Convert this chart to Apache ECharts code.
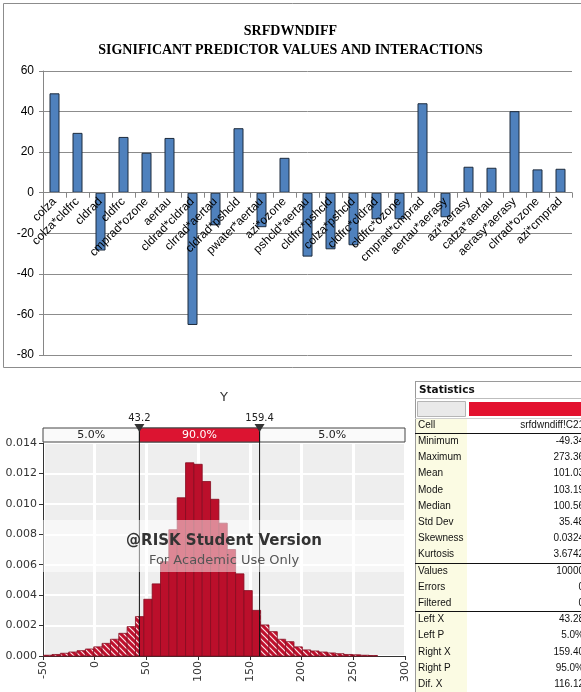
<!DOCTYPE html>
<html><head><meta charset="utf-8">
<script src="https://cdn.jsdelivr.net/npm/echarts@6/dist/echarts.min.js"></script>
<style>html,body{margin:0;padding:0;background:#fff}#c{width:581px;height:692px}</style>
</head><body><div id="c"></div>
<script>
// ---- Top chart: predictor effects ----
const categories = ['colza','colza*cldfrc','cldrad','cldfrc','cmprad*ozone','aertau','cldrad*cldrad','clrrad*aertau','cldrad*pshcld','pwater*aertau','azi*ozone','pshcld*aertau','cldfrc*pshcld','colza*pshcld','cldfrc*cldrad','cldfrc*ozone','cmprad*cmprad','aertau*aerasy','azi*aerasy','catza*aertau','aerasy*aerasy','clrrad*ozone','azi*cmprad'];
const effects = [49.0,29.5,-28.5,27.5,19.7,27.0,-65.2,-16.1,31.8,-17.0,17.2,-31.5,-27.9,-25.9,-13.1,-13.1,44.1,-12.1,12.8,12.3,40.2,11.5,11.8];
const effectTicks = [-80,-60,-40,-20,0,20,40,60];

// ---- Histogram of Y ----
const binEdges = [-49.34,-41.27,-33.21,-25.14,-17.07,-9.00,-0.94,7.13,15.20,23.27,31.34,39.40,47.47,55.54,63.61,71.67,79.74,87.81,95.88,103.95,112.01,120.08,128.15,136.21,144.28,152.35,160.42,168.49,176.55,184.62,192.69,200.75,208.82,216.89,224.96,233.02,241.09,249.16,257.23,265.29,273.36];
const densities = [0.00005,0.0001,0.00018,0.00026,0.00035,0.00046,0.0006,0.00083,0.0011,0.00149,0.00193,0.00259,0.00373,0.00474,0.0062,0.0083,0.0104,0.0127,0.0126,0.01147,0.0103,0.00873,0.0070,0.0054,0.0043,0.0030,0.00204,0.0016,0.0011,0.00094,0.0006,0.0004,0.00033,0.00026,0.0002,0.00015,0.0001,0.00008,0.00005,0.00003];
const cutoffs = [43.2, 159.4];
const bandPercents = ['5.0%','90.0%','5.0%'];
const histXTicks = [-50,0,50,100,150,200,250,300];
const histYTicks = [0,0.002,0.004,0.006,0.008,0.010,0.012,0.014];

// ---- Statistics table ----
const statLabels = ['Cell','Minimum','Maximum','Mean','Mode','Median','Std Dev','Skewness','Kurtosis','Values','Errors','Filtered','Left X','Left P','Right X','Right P','Dif. X'];
const statValues = ['srfdwndiff!C21','-49.34','273.36','101.03','103.19','100.56','35.48','0.0324','3.6742','10000','0','0','43.28','5.0%','159.40','95.0%','116.12'];

const histData = densities.map((d,i)=>[binEdges[i], binEdges[i+1], d]);

// hatch pattern
const pc = document.createElement('canvas'); pc.width = 6; pc.height = 6;
const pg = pc.getContext('2d');
pg.fillStyle = '#c0102d'; pg.fillRect(0,0,6,6);
pg.strokeStyle = 'rgba(255,255,255,0.9)'; pg.lineWidth = 1.2;
pg.beginPath();
pg.moveTo(0,0); pg.lineTo(6,6);
pg.moveTo(-3,3); pg.lineTo(3,9);
pg.moveTo(3,-3); pg.lineTo(9,3);
pg.stroke();
const hatch = {image: pc, repeat: 'repeat'};

function renderHist(params, api){
  const lo = api.value(0), hi = api.value(1), d = api.value(2);
  const L = cutoffs[0], R = cutoffs[1];
  const segs = [];
  if (Math.min(hi,L) > lo) segs.push([lo, Math.min(hi,L), true]);
  if (Math.min(hi,R) > Math.max(lo,L)) segs.push([Math.max(lo,L), Math.min(hi,R), false]);
  if (hi > Math.max(lo,R)) segs.push([Math.max(lo,R), hi, true]);
  const children = segs.map(([a,b,h])=>{
    const p0 = api.coord([a,d]), p1 = api.coord([b,0]);
    return {type:'rect', shape:{x:p0[0], y:p0[1], width:p1[0]-p0[0], height:p1[1]-p0[1]},
      style:{fill: h ? hatch : '#bb0f2b', stroke:'#850b1f', lineWidth:0.8}};
  });
  return {type:'group', children};
}

function renderBand(params, api){
  const cs = params.coordSys;
  const xl = api.coord([api.value(0),0])[0], xr = api.coord([api.value(1),0])[0];
  const bTop = cs.y - 15, bH = 14;
  const bottom = cs.y + cs.height;
  const font = '11px "DejaVu Sans"';
  const ch = [
    {type:'rect', shape:{x:cs.x, y:bTop, width:cs.width, height:bH}, style:{fill:'#fafafa', stroke:'#444', lineWidth:1}},
    {type:'rect', shape:{x:xl, y:bTop, width:xr-xl, height:bH}, style:{fill:'#dc1431', stroke:'#444', lineWidth:1}},
    {type:'text', style:{text:bandPercents[0], x:(cs.x+xl)/2, y:bTop+bH/2, align:'center', verticalAlign:'middle', font, fill:'#222'}},
    {type:'text', style:{text:bandPercents[1], x:(xl+xr)/2, y:bTop+bH/2, align:'center', verticalAlign:'middle', font, fill:'#fff'}},
    {type:'text', style:{text:bandPercents[2], x:(xr+cs.x+cs.width)/2, y:bTop+bH/2, align:'center', verticalAlign:'middle', font, fill:'#222'}},
    {type:'line', shape:{x1:xl, y1:bTop, x2:xl, y2:bottom}, style:{stroke:'#111', lineWidth:1}},
    {type:'line', shape:{x1:xr, y1:bTop, x2:xr, y2:bottom}, style:{stroke:'#111', lineWidth:1}},
    {type:'polygon', shape:{points:[[xl-5,bTop-4],[xl+5,bTop-4],[xl,bTop+4]]}, style:{fill:'#333'}},
    {type:'polygon', shape:{points:[[xr-5,bTop-4],[xr+5,bTop-4],[xr,bTop+4]]}, style:{fill:'#333'}},
    {type:'text', style:{text:api.value(0).toFixed(1), x:xl, y:bTop-10, align:'center', verticalAlign:'middle', font:'10px "DejaVu Sans"', fill:'#222'}},
    {type:'text', style:{text:api.value(1).toFixed(1), x:xr, y:bTop-10, align:'center', verticalAlign:'middle', font:'10px "DejaVu Sans"', fill:'#222'}}
  ];
  return {type:'group', children: ch};
}

// table graphics
const tbl = [];
const tx0 = 415, rowY0 = 425, rowH = 16.2;
tbl.push({type:'rect', shape:{x:tx0+1, y:418, width:51, height:274}, style:{fill:'#fbfbe3'}, z:20});
tbl.push({type:'line', shape:{x1:tx0+0.5, y1:381, x2:tx0+0.5, y2:692}, style:{stroke:'#9a9a9a', lineWidth:1}, z:21});
tbl.push({type:'line', shape:{x1:tx0, y1:381.5, x2:581, y2:381.5}, style:{stroke:'#9a9a9a', lineWidth:1}, z:21});
tbl.push({type:'text', style:{text:'Statistics', x:419, y:390, verticalAlign:'middle', font:'bold 10.5px "DejaVu Sans"', fill:'#111'}, z:21});
tbl.push({type:'line', shape:{x1:tx0, y1:398.5, x2:581, y2:398.5}, style:{stroke:'#bdbdbd', lineWidth:1}, z:21});
tbl.push({type:'rect', shape:{x:417.5, y:401.5, width:48, height:15}, style:{fill:'#e9e9e9', stroke:'#b5b5b5', lineWidth:1}, z:21});
tbl.push({type:'rect', shape:{x:469, y:402, width:120, height:14}, style:{fill:'#e3122f'}, z:21});
tbl.push({type:'line', shape:{x1:tx0, y1:418.5, x2:581, y2:418.5}, style:{stroke:'#cfcfcf', lineWidth:1}, z:21});
[0,8,11].forEach(i=>{
  const y = Math.round(rowY0 + rowH*i + 8) + 0.5;
  tbl.push({type:'line', shape:{x1:tx0, y1:y, x2:581, y2:y}, style:{stroke:'#111', lineWidth:1}, z:21});
});
statLabels.forEach((lab,i)=>{
  const y = rowY0 + rowH*i;
  tbl.push({type:'text', style:{text:lab, x:418, y, verticalAlign:'middle', font:'10px "Liberation Sans"', fill:'#111'}, z:22});
  tbl.push({type:'text', style:{text:statValues[i], x:584, y, align:'right', verticalAlign:'middle', font:'10px "Liberation Sans"', fill:'#111'}, z:22});
});

const topGrid = {left:43, top:71, width:529, height:284};
const zeroOffset = -topGrid.height * 80 / 140; // move category axis up to the zero line

const chart = echarts.init(document.getElementById('c'), null, {renderer:'canvas'});
chart.setOption({
  animation:false,
  backgroundColor:'#fff',
  title:{text:'SRFDWNDIFF\nSIGNIFICANT PREDICTOR VALUES AND INTERACTIONS', left:'center', top:17,
    textStyle:{fontFamily:'"Liberation Serif", serif', fontWeight:'bold', fontSize:14, lineHeight:19, color:'#000'}},
  grid:[
    topGrid,
    {left:43, top:443, width:362, height:213, show:true, backgroundColor:'#eeeeee', borderWidth:0}
  ],
  xAxis:[
    {type:'category', gridIndex:0, data:categories, z:5, offset:zeroOffset,
      axisLine:{show:true, onZero:false, lineStyle:{color:'#868686'}},
      axisTick:{show:true, interval:0, length:5, lineStyle:{color:'#868686'}},
      axisLabel:{interval:0, rotate:45, margin:7, fontSize:12, color:'#000', fontFamily:'"Liberation Sans", Arial'}},
    {type:'value', gridIndex:1, min:-50, max:300, interval:50,
      axisLine:{show:true, onZero:false, lineStyle:{color:'#333'}},
      axisTick:{show:true, length:4, lineStyle:{color:'#333'}},
      axisLabel:{rotate:90, margin:5, fontSize:11, color:'#333', fontFamily:'"DejaVu Sans"'},
      splitLine:{show:true, lineStyle:{color:'#ffffff', width:3}}}
  ],
  yAxis:[
    {type:'value', gridIndex:0, min:-80, max:60, interval:20,
      axisLine:{show:true, onZero:false, lineStyle:{color:'#868686'}},
      axisTick:{show:true, length:4, lineStyle:{color:'#868686'}},
      axisLabel:{margin:9, fontSize:12, color:'#000', fontFamily:'"Liberation Sans", Arial'},
      splitLine:{show:true, lineStyle:{color:'#8c8c8c', width:1}}},
    {type:'value', gridIndex:1, min:0, max:0.014, interval:0.002,
      axisLine:{show:true, onZero:false, lineStyle:{color:'#333'}},
      axisTick:{show:true, length:4, lineStyle:{color:'#333'}},
      axisLabel:{margin:6, fontSize:11, color:'#333', fontFamily:'"DejaVu Sans"', formatter:v=>v.toFixed(3)},
      splitLine:{show:true, lineStyle:{color:'#ffffff', width:2}}}
  ],
  series:[
    {type:'bar', xAxisIndex:0, yAxisIndex:0, data:effects, barWidth:10,
      itemStyle:{color:'#4f81bd', borderColor:'#1d2b3d', borderWidth:1}},
    {type:'custom', xAxisIndex:1, yAxisIndex:1, data:histData, renderItem:renderHist,
      encode:{x:[0,1], y:2}, clip:false, z:3},
    {type:'custom', xAxisIndex:1, yAxisIndex:1, data:[[cutoffs[0], cutoffs[1], 0]], renderItem:renderBand,
      encode:{x:[0,1], y:2}, clip:false, z:6}
  ],
  graphic:[
    {type:'rect', shape:{x:3.5, y:3.5, width:600, height:364}, style:{fill:'none', stroke:'#8c8c8c', lineWidth:1}, z:1},
    {type:'text', style:{text:'Y', x:224, y:398, align:'center', verticalAlign:'middle', font:'13px "DejaVu Sans"', fill:'#333'}, z:10},
    {type:'rect', shape:{x:43, y:520, width:362, height:52}, style:{fill:'rgba(255,255,255,0.5)'}, z:10},
    {type:'text', style:{text:'@RISK Student Version', x:224, y:541, align:'center', verticalAlign:'middle', font:'bold 15px "DejaVu Sans"', fill:'#333'}, z:11},
    {type:'text', style:{text:'For Academic Use Only', x:224, y:561, align:'center', verticalAlign:'middle', font:'13px "DejaVu Sans"', fill:'#555'}, z:11}
  ].concat(tbl)
});
</script></body></html>
